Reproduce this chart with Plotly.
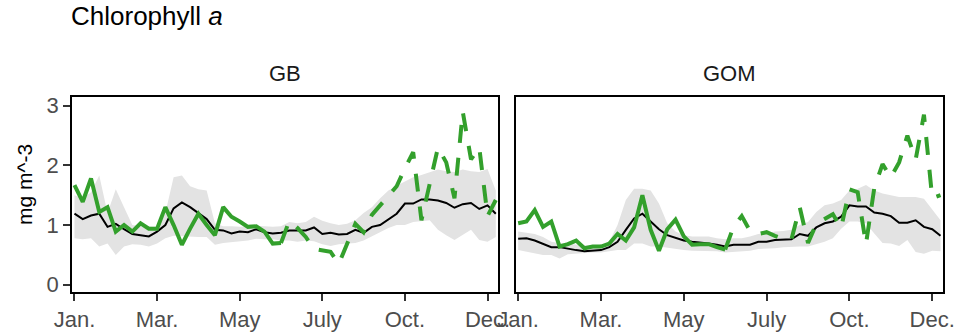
import plotly.graph_objects as go

weeks = list(range(1, 53))
tick_weeks = [1, 11, 21, 31, 41, 51]
tick_labels = ["Jan.", "Mar.", "May", "July", "Oct.", "Dec."]
y_ticks = [0, 1, 2, 3]

# ---- GB ----
gb_mean = [1.19, 1.1, 1.16, 1.19, 0.97, 1.02, 0.93, 0.85, 0.83, 0.81,
           0.89, 1.0, 1.28, 1.38, 1.3, 1.2, 1.1, 0.92, 0.91, 0.86,
           0.89, 0.88, 0.93, 0.88, 0.86, 0.87, 0.91, 0.91, 0.91, 0.96,
           0.85, 0.87, 0.84, 0.85, 0.92, 0.87, 0.97, 1.0, 1.1, 1.19,
           1.36, 1.36, 1.43, 1.43, 1.41, 1.37, 1.29, 1.35, 1.37, 1.27,
           1.33, 1.19]
gb_upper = [1.5, 1.45, 1.55, 1.83, 1.2, 1.6, 1.3, 1.0, 0.98, 0.97,
            0.97, 1.2, 1.8, 1.83, 1.65, 1.6, 1.58, 1.03, 0.98, 0.98,
            0.97, 0.98, 0.99, 0.98, 0.97, 0.98, 1.05, 1.03, 1.05, 1.14,
            1.07, 1.03, 1.0, 1.02, 1.08, 1.2, 1.3, 1.45, 1.58, 1.66,
            1.73, 1.8, 1.84, 1.88, 1.93, 1.9, 1.89, 1.93, 1.9, 1.89,
            1.94, 1.58]
gb_lower = [0.78, 0.76, 0.78, 0.64, 0.69, 0.5, 0.64, 0.68, 0.67, 0.64,
            0.69, 0.78, 0.82, 0.82, 0.81, 0.8, 0.8, 0.67, 0.7, 0.72,
            0.73, 0.74, 0.77, 0.76, 0.76, 0.74, 0.74, 0.72, 0.74, 0.73,
            0.68, 0.65, 0.68, 0.69, 0.7, 0.74, 0.8, 0.88, 0.95, 1.0,
            1.0, 1.05, 1.07, 1.08, 0.92, 0.83, 0.75, 0.84, 0.92, 0.75,
            0.72, 0.8]
gb_obs_solid = [1.67, 1.39, 1.78, 1.22, 1.3, 0.89, 1.0, 0.89, 1.03, 0.94,
                0.94, 1.3, 1.0, 0.67, 0.94, 1.19, 1.0, 0.83, 1.3, 1.14,
                1.06, 0.97, 0.98, 0.89, 0.69, 0.7]
gb_obs_dashed = [0.7, 1.07, 0.95, 0.8, 0.6, 0.58, 0.55, 0.35, 0.7, 1.02,
                 0.88, 1.17, 1.33, 1.48, 1.65, 1.95, 2.22, 1.08, 1.7, 2.3,
                 2.05, 1.45, 2.9, 2.1, 2.3, 1.15, 1.42]

# ---- GOM ----
gom_mean = [0.77, 0.78, 0.74, 0.68, 0.63, 0.63, 0.6, 0.58, 0.56, 0.57,
            0.58, 0.63, 0.72, 0.92, 1.11, 1.19, 1.06, 0.93, 0.83, 0.78,
            0.74, 0.72, 0.71, 0.69, 0.67, 0.64, 0.67, 0.67, 0.67, 0.72,
            0.72, 0.75, 0.76, 0.76, 0.85, 0.82, 0.96, 1.03, 1.06, 1.14,
            1.33, 1.31, 1.31, 1.21, 1.19, 1.15, 1.04, 1.04, 1.08, 0.97,
            0.93, 0.82]
gom_upper = [0.89, 0.87, 0.85, 0.8, 0.72, 0.7, 0.69, 0.68, 0.66, 0.65,
             0.66, 0.72, 1.0, 1.42, 1.61, 1.61, 1.58, 1.36, 1.03, 0.89,
             0.83, 0.81, 0.81, 0.81, 0.78, 0.76, 0.78, 0.78, 0.81, 0.85,
             0.86, 0.89, 0.9, 0.92, 1.0, 1.05, 1.22, 1.33, 1.36, 1.42,
             1.58, 1.61, 1.67, 1.58, 1.53, 1.5, 1.47, 1.47, 1.47, 1.44,
             1.25, 1.08]
gom_lower = [0.58, 0.56, 0.53, 0.5, 0.5, 0.44, 0.51, 0.53, 0.53, 0.54,
             0.54, 0.56, 0.58, 0.58, 0.69, 0.69, 0.64, 0.64, 0.61, 0.6,
             0.58, 0.57, 0.56, 0.56, 0.56, 0.54, 0.54, 0.56, 0.57, 0.6,
             0.6, 0.61, 0.63, 0.64, 0.64, 0.64, 0.68, 0.72, 0.78, 0.94,
             1.06, 1.06, 1.03, 0.86, 0.7, 0.69, 0.65, 0.75, 0.55, 0.52,
             0.57, 0.56]
gom_obs_solid = [1.03, 1.06, 1.25, 0.97, 1.06, 0.64, 0.68, 0.74, 0.61, 0.64,
                 0.64, 0.69, 0.85, 0.74, 0.96, 1.5, 0.92, 0.57, 0.93, 1.09,
                 0.81, 0.67, 0.68, 0.68, 0.63, 0.59]
gom_obs_dashed = [0.59, 0.97, 1.15, 0.9, 0.85, 0.88, 0.82, 0.77, 0.76, 1.3,
                  0.7, 1.02, 1.1, 1.18, 0.95, 1.6, 1.55, 0.68, 1.62, 2.02,
                  1.8, 2.05, 2.5, 2.1, 2.85, 1.45, 1.5]

GREEN = "#33a02c"
RIBBON = "#e3e3e3"
FONT = "Liberation Sans, Arial, sans-serif"

fig = go.Figure()

panels = [
    ("x", "y", gb_mean, gb_upper, gb_lower, gb_obs_solid, gb_obs_dashed),
    ("x2", "y2", gom_mean, gom_upper, gom_lower, gom_obs_solid, gom_obs_dashed),
]
for xa, ya, mean, up, lo, solid, dashed in panels:
    fig.add_trace(go.Scatter(
        x=weeks + weeks[::-1], y=up + lo[::-1], fill="toself",
        fillcolor=RIBBON, line=dict(width=0), mode="lines",
        hoverinfo="skip", xaxis=xa, yaxis=ya, showlegend=False))
    fig.add_trace(go.Scatter(
        x=weeks, y=mean, mode="lines", line=dict(color="black", width=2),
        xaxis=xa, yaxis=ya, showlegend=False))
    fig.add_trace(go.Scatter(
        x=weeks[:len(solid)], y=solid, mode="lines",
        line=dict(color=GREEN, width=4),
        xaxis=xa, yaxis=ya, showlegend=False))
    start = len(solid) - 1
    fig.add_trace(go.Scatter(
        x=weeks[start:start + len(dashed)], y=dashed, mode="lines",
        line=dict(color=GREEN, width=4, dash="18px,15px"),
        xaxis=xa, yaxis=ya, showlegend=False))

xcommon = dict(
    range=[0.7, 52.3], tickmode="array", tickvals=tick_weeks,
    ticktext=tick_labels, ticks="outside", ticklen=7, tickwidth=1.5,
    tickcolor="#333333", showline=True, linecolor="black", linewidth=1.7,
    mirror=True, showgrid=False, zeroline=False,
    tickfont=dict(family=FONT, size=22, color="#4d4d4d"),
)
ycommon = dict(
    range=[-0.122, 3.146], tickmode="array", tickvals=y_ticks,
    showline=True, linecolor="black", linewidth=1.7, mirror=True,
    showgrid=False, zeroline=False,
    tickfont=dict(family=FONT, size=22, color="#4d4d4d"),
)

fig.update_layout(
    width=958, height=333,
    margin=dict(l=72, r=15, t=97, b=41, autoexpand=False),
    paper_bgcolor="white", plot_bgcolor="white",
    xaxis=dict(domain=[0, 0.4894], anchor="y", **xcommon),
    xaxis2=dict(domain=[0.5094, 1], anchor="y2", **xcommon),
    yaxis=dict(domain=[0, 1], anchor="x", ticks="outside", ticklen=7,
               tickwidth=1.5, tickcolor="#333333", **ycommon),
    yaxis2=dict(domain=[0, 1], anchor="x2", ticks="", showticklabels=False,
                **ycommon),
    showlegend=False,
    annotations=[
        dict(text="Chlorophyll <i>a</i>", xref="paper", yref="paper",
             x=-0.004, y=1.415, xanchor="left", yanchor="middle",
             showarrow=False, font=dict(family=FONT, size=26, color="black")),
        dict(text="GB", xref="paper", yref="paper", x=0.2447, y=1.123,
             xanchor="center", yanchor="middle", showarrow=False,
             font=dict(family=FONT, size=22, color="#1a1a1a")),
        dict(text="GOM", xref="paper", yref="paper", x=0.7547, y=1.123,
             xanchor="center", yanchor="middle", showarrow=False,
             font=dict(family=FONT, size=22, color="#1a1a1a")),
        dict(text="mg m^-3", xref="paper", yref="paper", x=-0.054, y=0.554,
             xanchor="center", yanchor="middle", textangle=-90,
             showarrow=False, font=dict(family=FONT, size=21, color="black")),
    ],
)

fig.write_html("out.html",
               config={"displayModeBar": False},
               post_script="document.body.style.margin='0';"
                           "document.body.style.padding='0';")
